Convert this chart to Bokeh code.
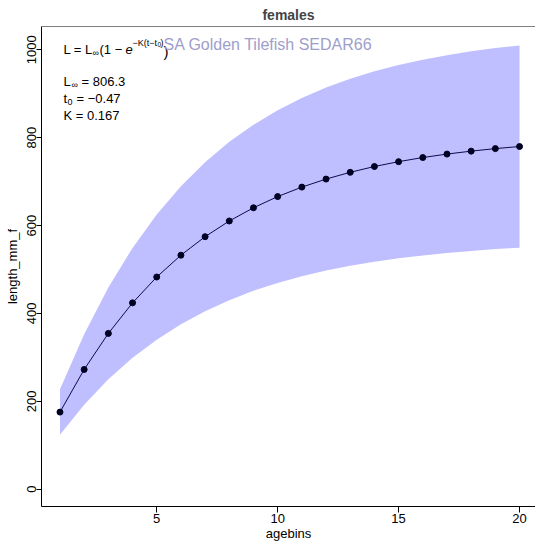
from bokeh.plotting import figure
from bokeh.models import Range1d, Span, Label
from bokeh.embed import file_html
from bokeh.resources import INLINE

# Female length-at-age: fitted means and the shaded interval around them
ages = list(range(1, 21))
length_mean = [175.5, 272.5, 354.6, 424.1, 482.9, 532.6, 574.7, 610.4, 640.5, 666.0,
               687.5, 705.8, 721.2, 734.4, 745.4, 754.8, 762.7, 769.4, 775.1, 779.9]
length_upper = [227.3, 352.9, 459.2, 549.2, 625.4, 689.7, 744.2, 790.5, 829.4, 862.5,
                890.3, 914.0, 934.0, 951.0, 965.3, 977.5, 987.7, 996.4, 1003.8, 1010.0]
length_lower = [123.7, 192.1, 250.0, 299.0, 340.4, 375.5, 405.2, 430.3, 451.6, 469.5,
                484.7, 497.6, 508.4, 517.8, 525.5, 532.1, 537.7, 542.4, 546.5, 549.8]
x_ticks = [5, 10, 15, 20]
y_ticks = [0, 200, 400, 600, 800, 1000]

FONT = "Liberation Sans"
LEFT, TOP, BOTTOM = 41, 25, 506

p = figure(width=535, height=543, output_backend="svg", toolbar_location=None,
           x_range=Range1d(0.236, 20.66), y_range=Range1d(-39.3, 1053),
           min_border_left=LEFT, min_border_right=0, min_border_top=TOP,
           min_border_bottom=543 - BOTTOM, title="females",
           background_fill_color="white", border_fill_color="white")
p.outline_line_color = None
p.grid.visible = False

p.title.align = "center"
p.title.text_font = FONT
p.title.text_font_size = "14px"
p.title.text_font_style = "bold"
p.title.standoff = 8

for ax in (p.xaxis[0], p.yaxis[0]):
    ax.axis_line_color = "black"
    ax.major_tick_line_color = "black"
    ax.major_tick_out = 6
    ax.major_tick_in = 0
    ax.minor_tick_line_color = None
    ax.major_label_text_font = FONT
    ax.major_label_text_font_size = "13px"
    ax.major_label_text_color = "black"
    ax.major_label_standoff = 1
    ax.axis_label_text_font = FONT
    ax.axis_label_text_font_size = "13px"
    ax.axis_label_text_font_style = "normal"
    ax.axis_label_text_color = "black"
    ax.axis_label_standoff = 0

p.xaxis.ticker = x_ticks
p.yaxis.ticker = y_ticks
p.xaxis.axis_label = "agebins"
p.yaxis.axis_label = "length_mm_f"
p.yaxis.major_label_orientation = "vertical"
p.yaxis.major_tick_out = 5
p.yaxis.major_label_standoff = 0
p.yaxis.axis_label_standoff = 5

# top edge of the plot box
p.add_layout(Span(location=1053, dimension="width", line_color="black", line_width=1))

p.varea(x=ages, y1=length_lower, y2=length_upper, fill_color="#BFBFFF")
p.line(ages, length_mean, line_color="#0B0B4D", line_width=1)
p.scatter(ages, length_mean, size=6, fill_color="#000022", line_color="#000022")


def put(text, px, py, size=13, color="black", style="normal"):
    p.add_layout(Label(x=px - LEFT, y=BOTTOM - py, x_units="screen", y_units="screen",
                       text=text, text_font=FONT, text_font_size=f"{size}px",
                       text_color=color, text_font_style=style,
                       text_baseline="alphabetic", text_align="left"))


# growth equation
put("L = L", 63, 49)
put("\u221e", 92, 52, size=9)
put("(1 \u2212", 99, 49)
put("e", 125, 49, style="italic")
put("\u2212K(t\u2212t", 132, 42, size=9)
put("0", 157, 44, size=6.5)
put(")", 160, 42, size=9)
put(")", 163, 51, size=15)

put("SA Golden Tilefish SEDAR66", 163, 44, size=16, color="#9E9ECB")

# parameter estimates
put("L", 63, 81)
put("\u221e", 71, 84, size=9)
put("= 806.3", 81, 81)
put("t", 63, 98)
put("0", 67, 101, size=9)
put("= \u22120.47", 76, 98)
put("K = 0.167", 63, 115)

open("out.html", "w").write(file_html(p, INLINE))
